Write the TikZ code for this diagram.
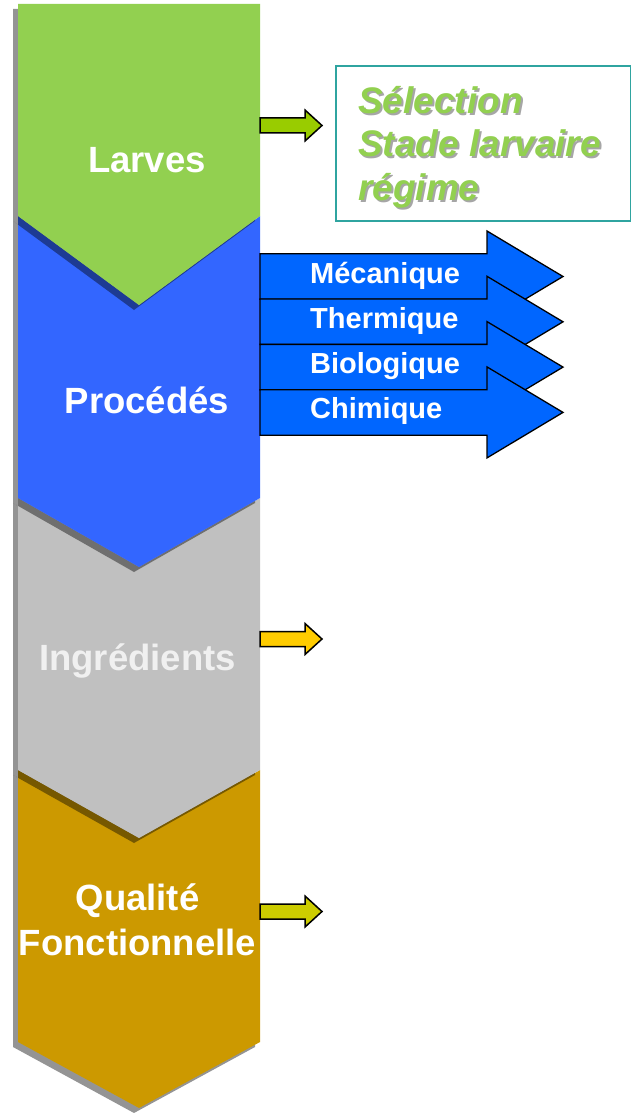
\documentclass[tikz,border=0pt]{standalone}
\usepackage{fontspec}
\setmainfont{Liberation Sans}
\definecolor{chevgreen}{HTML}{92D050}
\definecolor{chevblue}{HTML}{3366FF}
\definecolor{chevgray}{HTML}{C0C0C0}
\definecolor{chevgold}{HTML}{CC9900}
\definecolor{procblue}{HTML}{0066FF}
\definecolor{arrgreen}{HTML}{99CC00}
\definecolor{arryellow}{HTML}{FFCC00}
\definecolor{arrolive}{HTML}{CCCC00}
\definecolor{boxteal}{HTML}{2FA4A0}
\begin{document}
\begin{tikzpicture}[x=1pt,y=-1pt,
  chevshadow/.style={fill=black, fill opacity=0.42, shift={(-5,5)}},
  chevlabel/.style={text=white, inner sep=0, font=\bfseries\fontsize{36.5}{45}\selectfont},
  procarrow/.style={fill=procblue, draw=black, line width=1.3pt, line join=miter},
  proclabel/.style={text=white, inner sep=0, anchor=base west, font=\bfseries\fontsize{29}{34}\selectfont},
  smallarrow/.style={draw=black, line width=1.5pt, line join=miter},
  seltext/.style={inner sep=0, anchor=base west, align=left, font=\bfseries\itshape\fontsize{37}{43.5}\selectfont}]
\useasboundingbox (0,0) rectangle (631,1113);

% Chevron stack, drawn bottom-up so each upper shape and its shadow overlap the next one
% Qualite fonctionnelle
\path[chevshadow] (18,770) -- (139,838) -- (260,770) -- (260,1042) -- (139,1108) -- (18,1042) -- cycle;
\path[fill=chevgold] (18,770) -- (139,838) -- (260,770) -- (260,1042) -- (139,1108) -- (18,1042) -- cycle;
% Ingredients
\path[chevshadow] (18,498) -- (139,567) -- (260,498) -- (260,770) -- (139,838) -- (18,770) -- cycle;
\path[fill=chevgray] (18,498) -- (139,567) -- (260,498) -- (260,770) -- (139,838) -- (18,770) -- cycle;
% Procedes
\path[chevshadow] (18,216) -- (139,305) -- (260,216) -- (260,498) -- (139,567) -- (18,498) -- cycle;
\path[fill=chevblue] (18,216) -- (139,305) -- (260,216) -- (260,498) -- (139,567) -- (18,498) -- cycle;
% Larves
\path[chevshadow] (18,4) -- (260,4) -- (260,216) -- (139,305) -- (18,216) -- cycle;
\path[fill=chevgreen] (18,4) -- (260,4) -- (260,216) -- (139,305) -- (18,216) -- cycle;

% Stage labels
\node[chevlabel, anchor=base] (larves) at (147,172) {Larves};
\node[chevlabel, anchor=base] (procedes) at (147,413) {Procédés};
\node[chevlabel, anchor=base, text=white!94!black] (ingredients) at (137.5,670) {Ingrédients};
\node[chevlabel, anchor=base] (qualite) at (137.5,910) {Qualité};
\node[chevlabel, anchor=base] (fonctionnelle) at (137.5,955) {Fonctionnelle};

% Process arrows, each one overlapping the previous one
\foreach \yc/\lab/\nm in {276.5/Mécanique/meca, 321.8/Thermique/therm, 367.1/Biologique/bio, 412.4/Chimique/chim}{
  \draw[procarrow] (260,\yc-22.75) -- (487,\yc-22.75) -- (487,\yc-45.5) -- (563,\yc)
     -- (487,\yc+45.5) -- (487,\yc+22.75) -- (260,\yc+22.75) -- cycle;
  \node[proclabel] (\nm) at (310,\yc+6.5) {\lab};
}

% Small block arrows beside the stages
\foreach \yc/\col in {125.5/arrgreen, 639/arryellow, 911.5/arrolive}{
  \draw[smallarrow, fill=\col] (260,\yc-7.5) -- (305,\yc-7.5) -- (305,\yc-15.5) -- (322,\yc)
     -- (305,\yc+15.5) -- (305,\yc+7.5) -- (260,\yc+7.5) -- cycle;
}

% Selection box (the anchor sits on the baseline of the last line)
\node[draw=boxteal, line width=1.6pt, minimum width=295pt, minimum height=155pt, anchor=north west, inner sep=0] (selbox) at (335,65) {};
\node[seltext, text=black!35] (selshadow) at (360,202) {Sélection\\Stade larvaire\\régime};
\node[seltext, text=chevgreen] (selection) at (358,200) {Sélection\\Stade larvaire\\régime};
\end{tikzpicture}
\end{document}
